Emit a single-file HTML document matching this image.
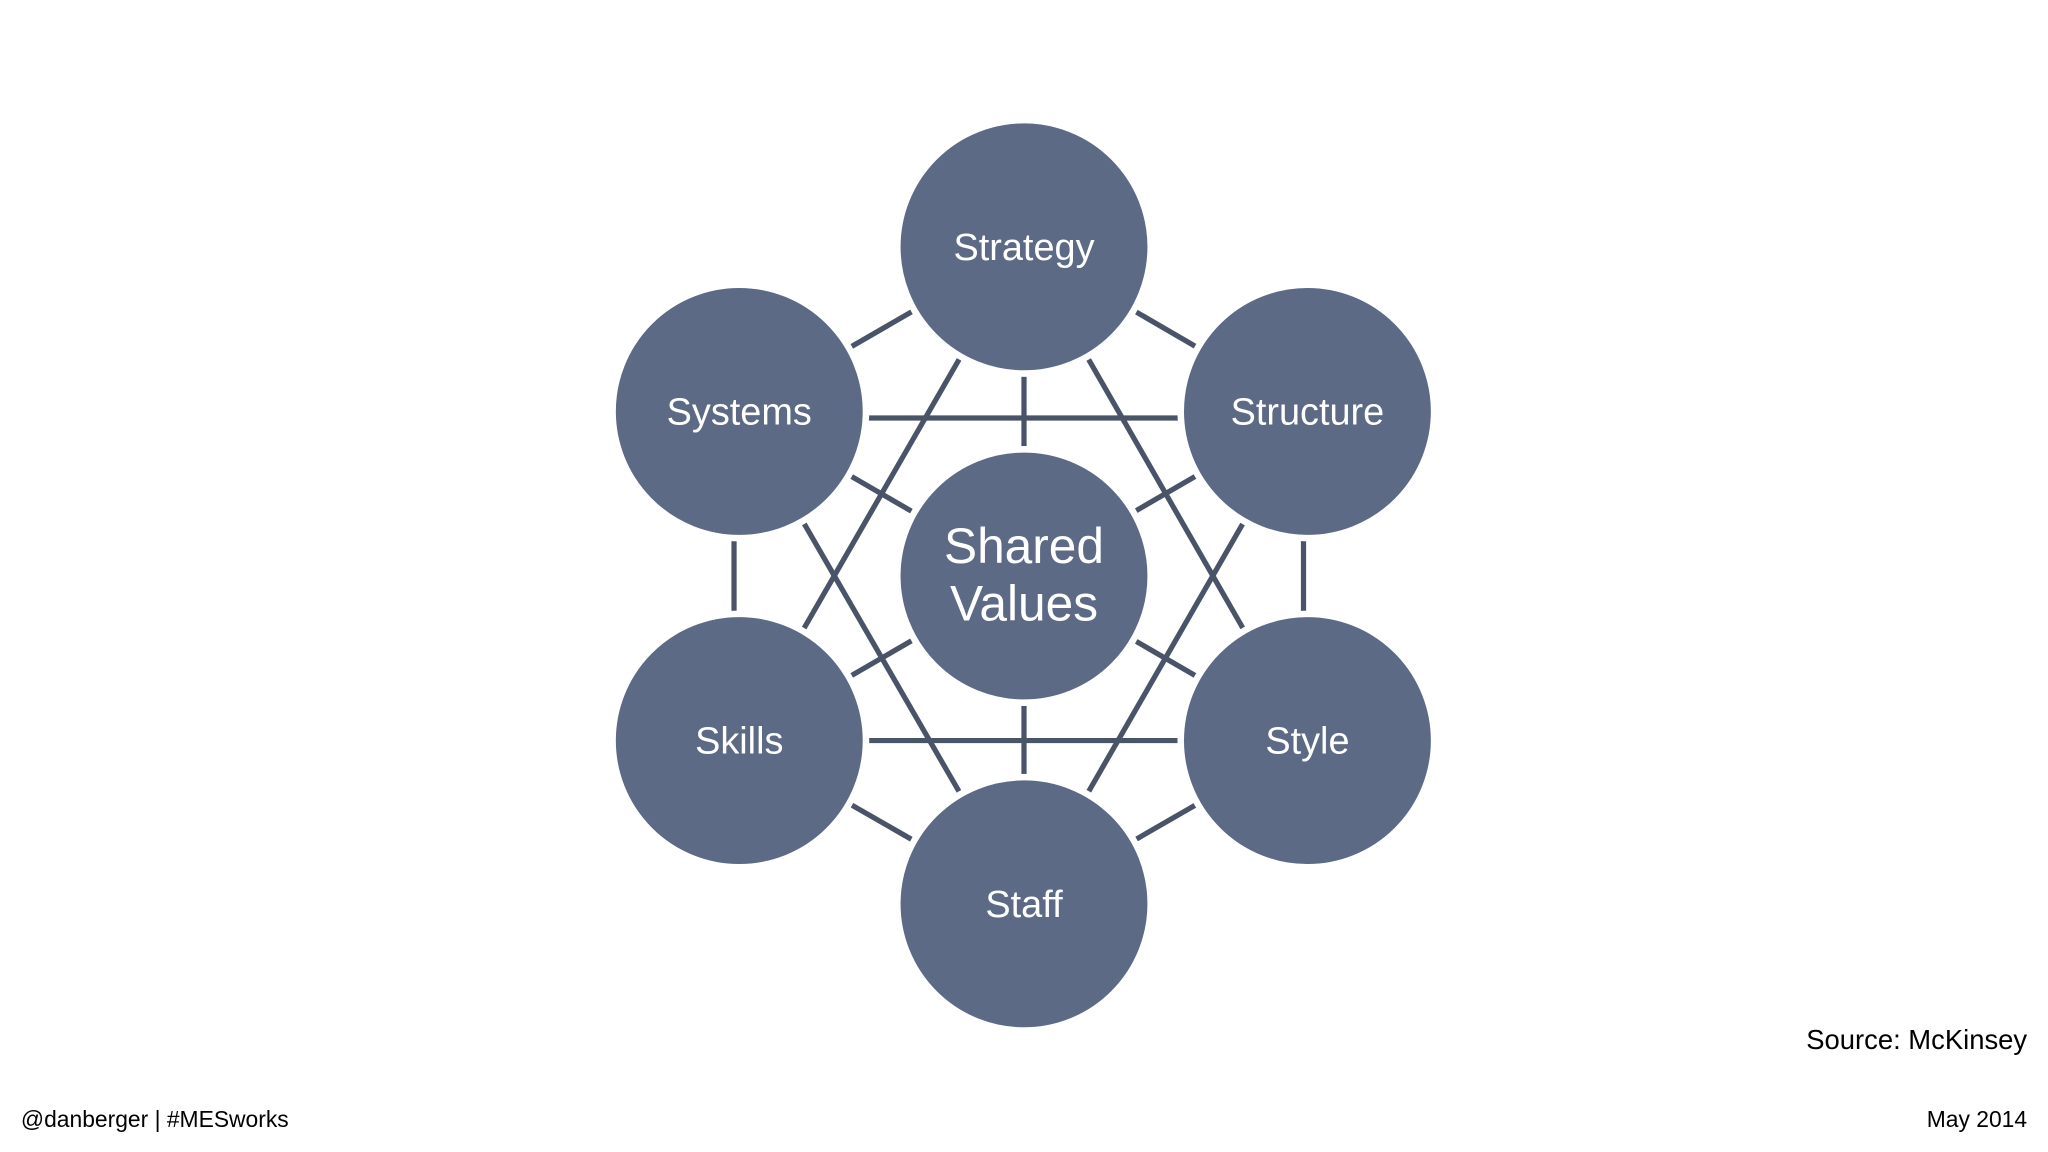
<!DOCTYPE html>
<html><head><style>
html,body{margin:0;padding:0;background:#fff;}
svg{display:block;}
</style></head><body>
<svg width="2048" height="1152" viewBox="0 0 1568 882" xmlns="http://www.w3.org/2000/svg">
<rect width="1568" height="882" fill="#fff"/>
<g stroke="#4a5468" stroke-width="4" fill="none">
<line x1="566" y1="320" x2="1001" y2="320"/>
<line x1="566" y1="567" x2="1001" y2="567"/>
<line x1="562" y1="315" x2="562" y2="567"/>
<line x1="998" y1="315" x2="998" y2="567"/>
<line x1="784" y1="189" x2="784" y2="692"/>
<line x1="784" y1="189" x2="566" y2="315"/>
<line x1="784" y1="189" x2="1001" y2="315"/>
<line x1="784" y1="692" x2="566" y2="567"/>
<line x1="784" y1="692" x2="1001" y2="567"/>
<line x1="784" y1="189" x2="566" y2="567"/>
<line x1="784" y1="189" x2="1001" y2="567"/>
<line x1="784" y1="692" x2="566" y2="315"/>
<line x1="784" y1="692" x2="1001" y2="315"/>
<line x1="566" y1="315" x2="1001" y2="567"/>
<line x1="1001" y1="315" x2="566" y2="567"/>
</g>
<g fill="#5d6a85" stroke="#fff" stroke-width="5">
<circle cx="784" cy="189" r="97"/>
<circle cx="566" cy="315" r="97"/>
<circle cx="1001" cy="315" r="97"/>
<circle cx="566" cy="567" r="97"/>
<circle cx="1001" cy="567" r="97"/>
<circle cx="784" cy="692" r="97"/>
<circle cx="784" cy="441" r="97"/>
</g>
<g fill="#fff" font-family="Liberation Sans, sans-serif" font-size="29" text-anchor="middle">
<text x="784" y="199">Strategy</text>
<text x="566" y="325">Systems</text>
<text x="1001" y="325">Structure</text>
<text x="566" y="577">Skills</text>
<text x="1001" y="577">Style</text>
<text x="784" y="702">Staff</text>
<text x="784" y="431" font-size="38">Shared</text>
<text x="784" y="475" font-size="38">Values</text>
</g>
<g font-family="Liberation Sans, sans-serif" fill="#000">
<text x="1552" y="803" font-size="21" text-anchor="end">Source: McKinsey</text>
<text x="16" y="863" font-size="17.5">@danberger | #MESworks</text>
<text x="1552" y="863" font-size="17.5" text-anchor="end">May 2014</text>
</g>
</svg>
</body></html>
